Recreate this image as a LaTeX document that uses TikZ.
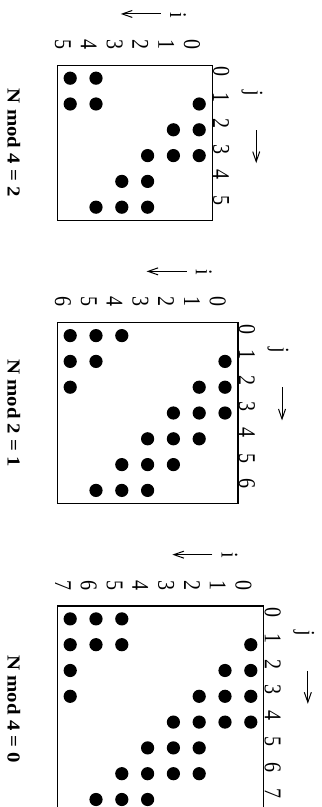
\documentclass[tikz,border=0pt]{standalone}
\usepackage{fontspec}
\setmainfont{Liberation Serif}
\usetikzlibrary{arrows.meta}

\begin{document}
\begin{tikzpicture}[x=12.9pt, y=12.9pt, >={Straight Barb[length=5pt,width=3.5pt]},
    frame/.style={draw, line width=0.6pt, inner sep=0pt, outer sep=0pt},
    dot/.style={circle, fill, inner sep=0pt, minimum size=6.6pt},
    idx/.style={rotate=-90, yscale=1.2, inner sep=0pt, font=\fontsize{10}{12}\selectfont},
    title/.style={rotate=-90, yscale=0.88, inner sep=0pt, font=\fontsize{10.4}{12}\selectfont\bfseries}]
    \useasboundingbox (0,0) rectangle (12.442,-31.279);
    \clip (0,0) rectangle (12.442,-31.279);

    % Ba ma trận: N / góc trên phải (x, y) / tiêu đề / các chấm i/j
    \foreach \n/\R/\T/\lbl/\pts in {
        6/8.221/2.531/{N mod 4 = 2}/{4/0,5/0,0/1,4/1,5/1,0/2,1/2,0/3,1/3,2/3,2/4,3/4,2/5,3/5,4/5},
        7/9.221/12.508/{N mod 2 = 1}/{4/0,5/0,6/0,0/1,5/1,6/1,0/2,1/2,6/2,0/3,1/3,2/3,1/4,2/4,3/4,2/5,3/5,4/5,3/6,4/6,5/6},
        8/10.221/23.488/{N mod 4 = 0}/{5/0,6/0,7/0,0/1,5/1,6/1,7/1,0/2,1/2,7/2,0/3,1/3,2/3,7/3,0/4,1/4,2/4,3/4,2/5,3/5,4/5,2/6,3/6,4/6,5/6,4/7,5/7,6/7}} {
      \begin{scope}[shift={(\R,-\T)}]
        \pgfmathtruncatemacro\m{\n-1}
        % Khung ma trận
        \node[frame, minimum size=\n*12.9pt, anchor=north east] (box\n) at (0,0) {};

        % Các chấm (hàng i, cột j)
        \foreach \i/\j in \pts
          \node[dot] (d\n-\i-\j) at (-\i-0.5, -\j-0.5) {};

        % Chỉ số hàng và cột
        \foreach \k in {0,...,\m} {
          \node[idx] (i\n-\k) at (-\k-0.78, 0.81) {\k};
          \node[idx] (j\n-\k) at (0.35, -\k-0.25) {\k};
        }

        % Nhãn i, j và mũi tên
        \node[idx] (iname\n) at (-1.32, 1.95) {i};
        \coordinate (ia\n) at (-1.99, 1.99);
        \coordinate (ib\n) at (-3.54, 1.99);
        \draw[->, line width=0.5pt] (ia\n) -- (ib\n);

        \node[idx] (jname\n) at (1.55, -1.07) {j};
        \coordinate (ja\n) at (1.71, -2.51);
        \coordinate (jb\n) at (1.71, -3.79);
        \draw[->, line width=0.5pt] (ja\n) -- (jb\n);

        % Tiêu đề
        \node[title] (t\n) at (-\n-1.686, -\n/2) {\lbl};
      \end{scope}
    }
\end{tikzpicture}
\end{document}
